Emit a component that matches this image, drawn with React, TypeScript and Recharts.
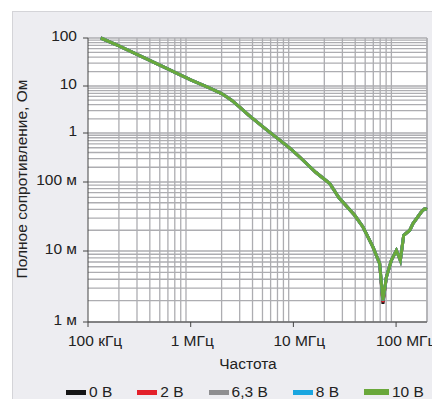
import { LineChart, Line, XAxis, YAxis, CartesianGrid, ReferenceLine } from "recharts";

// frequency, Hz
const freqs = [
  1.33e5, 2e5, 5e5, 1e6, 1.5e6, 2e6, 2.5e6, 3e6, 3.69e6, 5.46e6, 8.55e6, 9.78e6, 1.15e7, 1.65e7,
  2.26e7, 2.78e7, 3.95e7, 4.76e7, 5.96e7, 6.92e7, 7.45e7, 8.05e7, 9.0e7, 1.007e8, 1.1e8,
  1.186e8, 1.36e8, 1.46e8, 1.76e8, 1.9e8, 2e8,
];

// impedance, Ohm (curves overlap, only 0 V shows at the dip)
const z0 = [
  100, 68.8, 27.1, 13.4, 9.2, 6.9, 5.0, 3.57, 2.38, 1.18, 0.561, 0.443, 0.324, 0.158,
  0.095, 0.059, 0.0329, 0.0223, 0.0114, 0.00665, 0.0018, 0.0043, 0.0074, 0.0102, 0.0074,
  0.0169, 0.02, 0.025, 0.0367, 0.041, 0.04,
];
const z2 = [
  100, 68.8, 27.1, 13.4, 9.2, 6.9, 5.0, 3.57, 2.38, 1.18, 0.561, 0.443, 0.324, 0.158,
  0.095, 0.059, 0.0329, 0.0223, 0.0114, 0.00665, 0.0019, 0.0043, 0.0074, 0.0102, 0.0074,
  0.0169, 0.02, 0.025, 0.0367, 0.041, 0.04,
];
const z63 = [
  100, 68.8, 27.1, 13.4, 9.2, 6.9, 5.0, 3.57, 2.38, 1.18, 0.561, 0.443, 0.324, 0.158,
  0.095, 0.059, 0.0329, 0.0223, 0.0114, 0.00665, 0.002, 0.0043, 0.0074, 0.0102, 0.0074,
  0.0169, 0.02, 0.025, 0.0367, 0.041, 0.04,
];
const z8 = [
  100, 68.8, 27.1, 13.4, 9.2, 6.9, 5.0, 3.57, 2.38, 1.18, 0.561, 0.443, 0.324, 0.158,
  0.095, 0.059, 0.0329, 0.0223, 0.0114, 0.00665, 0.002, 0.0043, 0.0074, 0.0102, 0.0074,
  0.0169, 0.02, 0.025, 0.0367, 0.041, 0.04,
];
const z10 = [
  100, 68.8, 27.1, 13.4, 9.2, 6.9, 5.0, 3.57, 2.38, 1.18, 0.561, 0.443, 0.324, 0.158,
  0.095, 0.059, 0.0329, 0.0223, 0.0114, 0.00665, 0.00202, 0.0043, 0.0074, 0.0102, 0.0074,
  0.0169, 0.02, 0.025, 0.0367, 0.041, 0.04,
];

const xTicks = [1e5, 1e6, 1e7, 1e8];
const xTickLabels = ["100 кГц", "1 МГц", "10 МГц", "100 МГц"];
const yDecades = [0.001, 0.01, 0.1, 1, 10, 100];
const yTickLabels = ["1 м", "10 м", "100 м", "1", "10", "100"];
// the source axis has uneven decades, these are their stops on the value axis
const yDecadeStops = [0, 71, 140, 189, 236, 284];

const seriesNames = ["0 В", "2 В", "6,3 В", "8 В", "10 В"];
const seriesKeys = ["z0", "z2", "z63", "z8", "z10"];
const colors = ["#161616", "#e3202a", "#8e8e90", "#1aa6e0", "#6aa83b"];

const FONT = "'Liberation Sans', Arial, sans-serif";

const toU = (v: number) => {
  const lv = Math.log10(v);
  let i = 0;
  while (i < yDecades.length - 2 && lv >= Math.log10(yDecades[i + 1])) i++;
  const frac = lv - Math.log10(yDecades[i]);
  return yDecadeStops[i] + frac * (yDecadeStops[i + 1] - yDecadeStops[i]);
};

const data = freqs.map((f, i) => ({
  f,
  z0: toU(z0[i]),
  z2: toU(z2[i]),
  z63: toU(z63[i]),
  z8: toU(z8[i]),
  z10: toU(z10[i]),
}));

const xGrid: number[] = [];
xTicks.forEach((d) => {
  for (let k = 2; k <= 9; k++) if (k * d <= 2e8) xGrid.push(k * d);
});
xGrid.push(2e8);

const yGrid: number[] = [];
yDecades.slice(0, -1).forEach((d) => {
  for (let k = 1; k <= 9; k++) yGrid.push(toU(k * d));
});
yGrid.push(toU(100));

const XTick = ({ x, y, payload }: any) => {
  const i = xTicks.indexOf(payload.value);
  return (
    <text x={x - 20} y={y} dy="0.71em" textAnchor="start" fill="#222" fontSize={15.5} fontFamily={FONT}>
      {xTickLabels[i]}
    </text>
  );
};

const YTick = ({ x, y, payload }: any) => {
  const i = yDecadeStops.indexOf(payload.value);
  return (
    <text x={x} y={y + 3} textAnchor="end" fill="#222" fontSize={15.5} fontFamily={FONT}>
      {yTickLabels[i]}
    </text>
  );
};

export default function App() {
  return (
    <div style={{ position: "relative", width: 432, height: 399, background: "#fff", overflow: "hidden" }}>
      <style>{"body{margin:0}"}</style>
      <div
        style={{
          position: "absolute",
          left: 12,
          top: 11,
          right: 0,
          bottom: 0,
          background: "#ededf1",
          borderLeft: "1px solid #d4d4d8",
          borderTop: "1px solid #d4d4d8",
        }}
      />
      <div style={{ position: "absolute", left: 0, top: 0 }}>
        <LineChart width={432} height={399} data={data} margin={{ top: 38, right: 5, bottom: 0, left: 0 }}>
          <CartesianGrid fill="#fff" horizontal={false} vertical={false} />
          {xGrid.map((v) => (
            <ReferenceLine key={"x" + v} x={v} stroke="#adadb1" strokeWidth={1.3} />
          ))}
          {yGrid.map((v) => (
            <ReferenceLine key={"y" + v} y={v} stroke="#adadb1" strokeWidth={1.3} />
          ))}
          <XAxis
            dataKey="f"
            type="number"
            scale="log"
            domain={[1e5, 2e8]}
            ticks={xTicks}
            height={77}
            stroke="#444"
            tickSize={5}
            tickMargin={8}
            tick={<XTick />}
            label={{
              content: () => (
                <text x={248} y={369} textAnchor="middle" fill="#222" fontSize={15.5} fontFamily={FONT}>
                  Частота
                </text>
              ),
            }}
          />
          <YAxis
            type="number"
            domain={[0, 284]}
            ticks={yDecadeStops}
            width={88}
            stroke="#444"
            tickSize={5}
            tickMargin={6}
            tick={<YTick />}
            label={{
              content: () => (
                <text
                  transform="translate(27,179) rotate(-90)"
                  textAnchor="middle"
                  fill="#222"
                  fontSize={15.5}
                  fontFamily={FONT}
                >
                  Полное сопротивление, Ом
                </text>
              ),
            }}
          />
          {seriesKeys.map((k, i) => (
            <Line
              key={k}
              dataKey={k}
              type="linear"
              stroke={colors[i]}
              strokeWidth={3}
              dot={false}
              isAnimationActive={false}
            />
          ))}
        </LineChart>
      </div>
      <div
        style={{
          position: "absolute",
          left: 66,
          top: 383,
          display: "flex",
          alignItems: "center",
          gap: 25,
          fontFamily: FONT,
          fontSize: 15.5,
          color: "#222",
          whiteSpace: "nowrap",
        }}
      >
        {seriesNames.map((n, i) => (
          <div key={n} style={{ display: "flex", alignItems: "center", gap: 3 }}>
            <span
              style={{
                display: "inline-block",
                width: i === 4 ? 25 : 20,
                height: i === 4 ? 6 : 5,
                background: colors[i],
              }}
            />
            <span>{n}</span>
          </div>
        ))}
      </div>
    </div>
  );
}
